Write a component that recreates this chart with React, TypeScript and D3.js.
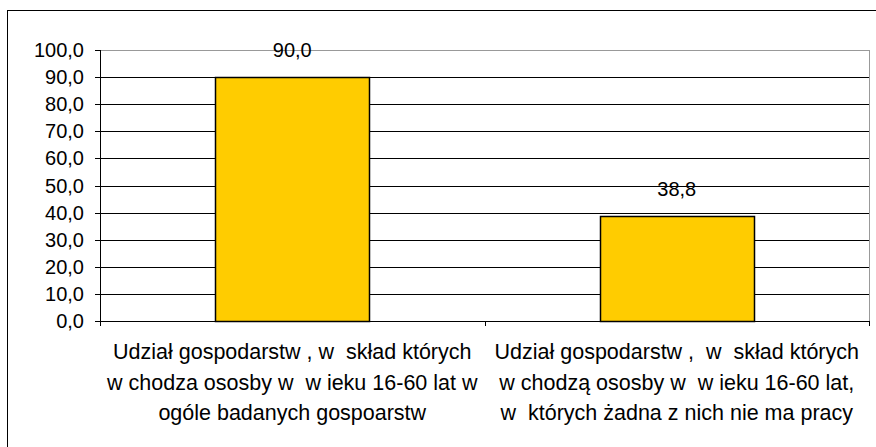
import * as d3 from 'd3';

const categories = [
  ['Udział gospodarstw , w  skład których', 'w chodza ososby w  w ieku 16-60 lat w', 'ogóle badanych gospoarstw'],
  ['Udział gospodarstw ,  w  skład których', 'w chodzą ososby w  w ieku 16-60 lat,', 'w  których żadna z nich nie ma pracy'],
];
const values = [90.0, 38.8];
const yTicks = [0, 10, 20, 30, 40, 50, 60, 70, 80, 90, 100];

const W = 876;
const H = 447;
const plot = { left: 100, top: 50, right: 869, bottom: 321 };
const font = '"Liberation Sans", Arial, sans-serif';

const fmt = (v: number) => v.toFixed(1).replace('.', ',');

export default function App() {
  const x = d3
    .scaleBand<number>()
    .domain(d3.range(values.length))
    .range([plot.left, plot.right]);
  const y = d3.scaleLinear().domain([0, 100]).range([plot.bottom, plot.top]);
  const barW = x.bandwidth() * 0.4;

  return (
    <svg
      width={W}
      height={H}
      style={{ position: 'absolute', left: 0, top: 0, fontFamily: font }}
    >
      <rect x={0} y={0} width={W} height={H} fill="white" />
      {/* outer frame */}
      <rect x={7.5} y={10.5} width={W + 10} height={H + 10} fill="none" stroke="#000" />

      {/* gridlines */}
      {yTicks.map((t) => (
        <line
          key={t}
          x1={plot.left}
          x2={plot.right}
          y1={Math.round(y(t)) + 0.5}
          y2={Math.round(y(t)) + 0.5}
          stroke={t === 100 ? '#999' : '#000'}
        />
      ))}
      {/* plot frame right (grey) */}
      <line
        x1={plot.right + 0.5}
        x2={plot.right + 0.5}
        y1={plot.top}
        y2={plot.bottom}
        stroke="#999"
      />

      {/* bars */}
      {values.map((v, i) => {
        const cx = (x(i) ?? 0) + x.bandwidth() / 2;
        const top = y(v);
        return (
          <g key={i}>
            <rect
              x={Math.round(cx - barW / 2) + 0.5}
              y={Math.round(top) + 0.5}
              width={Math.round(barW)}
              height={Math.round(plot.bottom - top)}
              fill="#FFCC00"
              stroke="#000"
              strokeWidth={1.5}
            />
            <text
              x={cx}
              y={top - 20}
              textAnchor="middle"
              fontSize={20}
              fill="#000"
            >
              {fmt(v)}
            </text>
          </g>
        );
      })}

      {/* y axis */}
      <line x1={plot.left + 0.5} x2={plot.left + 0.5} y1={plot.top} y2={plot.bottom + 5} stroke="#000" />
      {yTicks.map((t) => (
        <g key={t}>
          <line
            x1={plot.left - 5}
            x2={plot.left}
            y1={Math.round(y(t)) + 0.5}
            y2={Math.round(y(t)) + 0.5}
            stroke="#000"
          />
          <text x={84} y={y(t) + 7} textAnchor="end" fontSize={20} fill="#000">
            {fmt(t)}
          </text>
        </g>
      ))}

      {/* x axis */}
      <line x1={plot.left} x2={plot.right} y1={plot.bottom + 0.5} y2={plot.bottom + 0.5} stroke="#000" />
      {d3.range(values.length + 1).map((i) => {
        const px = Math.round(plot.left + i * x.step()) + 0.5;
        return (
          <line key={i} x1={px} x2={px} y1={plot.bottom} y2={plot.bottom + 5} stroke="#000" />
        );
      })}
      {categories.map((lines, i) => {
        const cx = (x(i) ?? 0) + x.bandwidth() / 2;
        return (
          <text key={i} textAnchor="middle" fontSize={21.5} fill="#000">
            {lines.map((l, j) => (
              <tspan key={j} x={cx} y={359 + j * 30.5} style={{ whiteSpace: 'pre' }}>
                {l}
              </tspan>
            ))}
          </text>
        );
      })}
    </svg>
  );
}
